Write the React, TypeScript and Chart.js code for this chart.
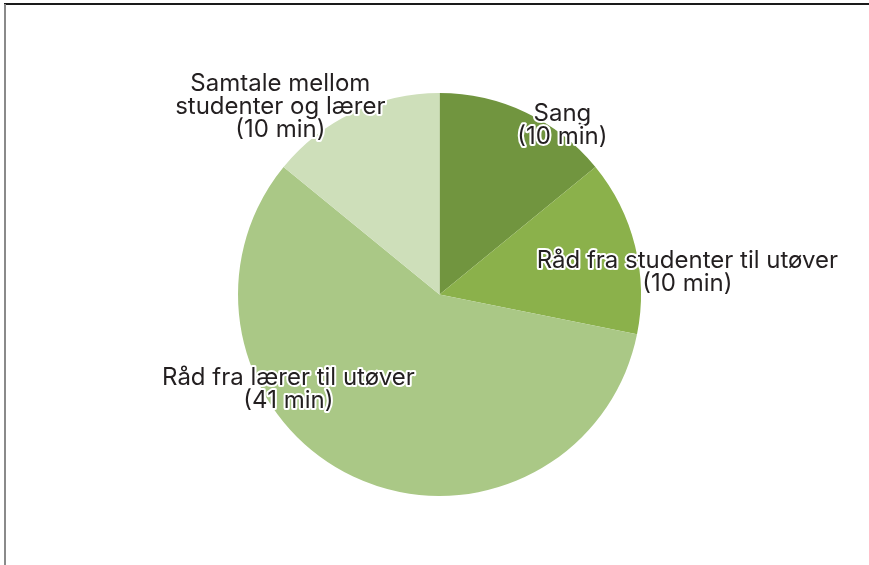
import React, { useEffect, useRef } from "react";
import { Chart, registerables } from "chart.js";

Chart.register(...registerables);

const categories = [
  "Sang",
  "Råd fra studenter til utøver",
  "Råd fra lærer til utøver",
  "Samtale mellom studenter og lærer",
];
const minutes = [10, 10, 41, 10];
const labelLines = [
  ["Sang", "(10 min)"],
  ["Råd fra studenter til utøver", "(10 min)"],
  ["Råd fra lærer til utøver", "(41 min)"],
  ["Samtale mellom", "studenter og lærer", "(10 min)"],
];
const colors = ["#71953f", "#8bb14b", "#aac886", "#cedfba"];
// label anchor offsets relative to pie centre, in units of radius
const labelOffsets = [
  [0.61, -0.84],
  [1.23, -0.11],
  [-0.75, 0.47],
  [-0.79, -0.93],
];

const labelPlugin = {
  id: "sliceLabels",
  afterDatasetsDraw(chart: any) {
    const meta = chart.getDatasetMeta(0);
    const ctx = chart.ctx as CanvasRenderingContext2D;
    ctx.save();
    ctx.font = "24px Inter";
    ctx.textAlign = "center";
    ctx.textBaseline = "middle";
    ctx.lineJoin = "round";
    meta.data.forEach((arc: any, i: number) => {
      const { x, y, outerRadius } = arc.getProps(["x", "y", "outerRadius"], true);
      const lines = labelLines[i];
      const lh = 23;
      const cx = x + labelOffsets[i][0] * outerRadius;
      const cy = y + labelOffsets[i][1] * outerRadius;
      const y0 = cy - ((lines.length - 1) * lh) / 2;
      lines.forEach((t, j) => {
        ctx.strokeStyle = "#ffffff";
        ctx.lineWidth = 4;
        ctx.strokeText(t, cx, y0 + j * lh);
        ctx.fillStyle = "#231f20";
        ctx.fillText(t, cx, y0 + j * lh);
      });
    });
    ctx.restore();
  },
};

export default function App() {
  const ref = useRef<HTMLCanvasElement>(null);
  useEffect(() => {
    const chart = new Chart(ref.current as HTMLCanvasElement, {
      type: "pie",
      data: {
        labels: categories,
        datasets: [
          {
            data: minutes,
            backgroundColor: colors,
            borderWidth: 0,
          },
        ],
      },
      options: {
        responsive: false,
        animation: false,
        layout: { padding: { left: 238, right: 228, top: 93, bottom: 69 } },
        plugins: { legend: { display: false }, tooltip: { enabled: false } },
      },
      plugins: [labelPlugin],
    });
    return () => chart.destroy();
  }, []);
  return (
    <div style={{ position: "fixed", left: 0, top: 0, width: 869, height: 565, background: "#fff" }}>
      <canvas ref={ref} width={869} height={565} style={{ position: "absolute", left: 0, top: 0 }} />
      <div style={{ position: "absolute", left: 4, top: 3, width: 865, height: 2, background: "#1a1a1a" }} />
      <div style={{ position: "absolute", left: 4, top: 4, width: 2, height: 561, background: "#8a8a8a" }} />
    </div>
  );
}
